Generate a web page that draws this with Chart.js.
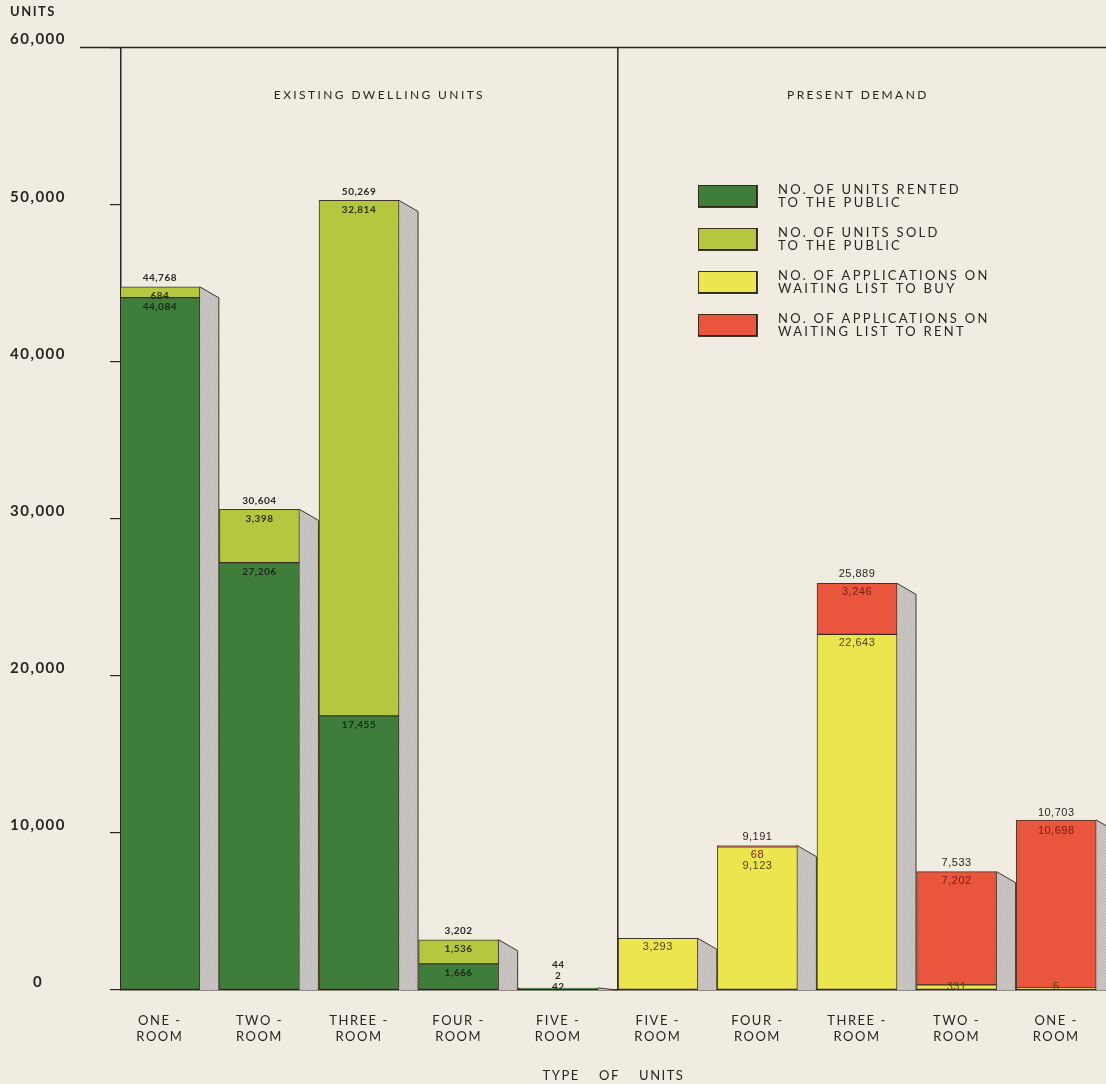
<!DOCTYPE html>
<html>
<head>
<meta charset="utf-8">
<title>Existing dwelling units and present demand</title>
<script src="https://cdn.jsdelivr.net/npm/chart.js@4.4.1/dist/chart.umd.min.js"></script>
<style>
  html, body { margin: 0; padding: 0; background: #f0ece2; }
  #wrap { width: 1106px; height: 1084px; position: relative; }
</style>
</head>
<body>
<div id="wrap"><canvas id="units"></canvas></div>
<script>
// room types: first five are existing stock, last five are the waiting lists
var categories = ['ONE-ROOM', 'TWO-ROOM', 'THREE-ROOM', 'FOUR-ROOM', 'FIVE-ROOM',
                  'FIVE-ROOM', 'FOUR-ROOM', 'THREE-ROOM', 'TWO-ROOM', 'ONE-ROOM'];
var sections = ['EXISTING DWELLING UNITS', 'PRESENT DEMAND'];

var rented = [44084, 27206, 17455, 1666, 42, null, null, null, null, null];
var sold   = [684, 3398, 32814, 1536, 2, null, null, null, null, null];
var toBuy  = [null, null, null, null, null, 3293, 9123, 22643, 331, 5];
var toRent = [null, null, null, null, null, null, 68, 3246, 7202, 10698];

var yTicks = [0, 10000, 20000, 30000, 40000, 50000, 60000];

var seriesNames = [
  ['NO. OF UNITS RENTED', 'TO THE PUBLIC'],
  ['NO. OF UNITS SOLD', 'TO THE PUBLIC'],
  ['NO. OF APPLICATIONS ON', 'WAITING LIST TO BUY'],
  ['NO. OF APPLICATIONS ON', 'WAITING LIST TO RENT']
];
var seriesColors = ['#3f7d3b', '#b4c73f', '#ece64e', '#e9553d'];
var seriesInk = ['#1c2818', '#2f3210', '#4d4610', '#7a1b0e'];

var series = [rented, sold, toBuy, toRent];
var ink = '#2a2520';
var edge = 'rgba(45,35,20,0.9)';

function fmt(v) { return v.toLocaleString('en-US'); }
function roomLabel(c) { var p = c.split('-'); return [p[0] + ' -', p[1]]; }

// hatched grey used for the side faces of the bars
var hatch = (function () {
  var c = document.createElement('canvas');
  c.width = 3; c.height = 3;
  var g = c.getContext('2d');
  g.fillStyle = '#ccc8c5';
  g.fillRect(0, 0, 3, 3);
  g.fillStyle = '#b9b5b2';
  g.fillRect(0, 2, 1, 1); g.fillRect(1, 1, 1, 1); g.fillRect(2, 0, 1, 1);
  return c;
})();

function columnTop(chart, i) {
  var top = chart.scales.y.getPixelForValue(0);
  series.forEach(function (s, k) {
    if (s[i] == null) return;
    var el = chart.getDatasetMeta(k).data[i];
    if (el) top = Math.min(top, el.y);
  });
  return top;
}

var spacing = {
  id: 'spacing',
  beforeLayout: function (chart) { chart.ctx.letterSpacing = '1.5px'; },
  beforeDraw: function (chart) { chart.ctx.letterSpacing = '1.5px'; }
};

var sideFaces = {
  id: 'sideFaces',
  beforeDatasetsDraw: function (chart) {
    var ctx = chart.ctx, y = chart.scales.y, x = chart.scales.x;
    var base = y.getPixelForValue(0);
    var pattern = ctx.createPattern(hatch, 'repeat');
    ctx.save();
    categories.forEach(function (c, i) {
      var top = columnTop(chart, i);
      var right = x.getPixelForValue(i) + 40;
      var depth = 19, drop = Math.min(11, base - top);
      ctx.beginPath();
      ctx.moveTo(right, top);
      ctx.lineTo(right + depth, top + drop);
      ctx.lineTo(right + depth, base);
      ctx.lineTo(right, base);
      ctx.closePath();
      ctx.fillStyle = pattern;
      ctx.fill();
      ctx.strokeStyle = edge;
      ctx.lineWidth = 1;
      ctx.beginPath();
      ctx.moveTo(right, top);
      ctx.lineTo(right + depth, top + drop);
      ctx.lineTo(right + depth, base);
      ctx.stroke();
    });
    ctx.restore();
  }
};

var valueLabels = {
  id: 'valueLabels',
  afterDatasetsDraw: function (chart) {
    var ctx = chart.ctx, y = chart.scales.y, x = chart.scales.x;
    var base = y.getPixelForValue(0);
    ctx.save();
    ctx.textAlign = 'center';
    ctx.textBaseline = 'middle';
    ctx.letterSpacing = '0.5px';
    categories.forEach(function (c, i) {
      var segs = [], sum = 0;
      series.forEach(function (s, k) {
        if (s[i] == null) return;
        sum += s[i];
        segs.push({ v: s[i], k: k, top: y.getPixelForValue(sum) });
      });
      if (!segs.length) return;
      var labels = [];
      if (segs.length > 1) labels.push({ text: fmt(sum), y: segs[segs.length - 1].top - 9, color: ink });
      for (var j = segs.length - 1; j >= 0; j--) {
        labels.push({ text: fmt(segs[j].v), y: segs[j].top + 9, color: seriesInk[segs[j].k] });
      }
      // keep labels apart, and inside the baseline
      for (j = 1; j < labels.length; j++) labels[j].y = Math.max(labels[j].y, labels[j - 1].y + 11);
      var last = labels.length - 1;
      labels[last].y = Math.min(labels[last].y, base - 3);
      for (j = last - 1; j >= 0; j--) labels[j].y = Math.min(labels[j].y, labels[j + 1].y - 11);
      ctx.font = i < 5 ? 'bold 10px Lato' : '11px "Liberation Sans"';
      var cx = x.getPixelForValue(i);
      labels.forEach(function (l) {
        ctx.fillStyle = l.color;
        ctx.fillText(l.text, cx, l.y);
      });
    });
    ctx.restore();
  }
};

var decor = {
  id: 'decor',
  afterDraw: function (chart) {
    var ctx = chart.ctx, a = chart.chartArea;
    var first = chart.getDatasetMeta(2).data[5];
    var divider = first.x - first.width / 2;
    ctx.save();
    ctx.strokeStyle = ink;
    ctx.lineWidth = 1.5;
    ctx.beginPath();
    ctx.moveTo(80, a.top); ctx.lineTo(a.right, a.top);
    ctx.moveTo(divider, a.top); ctx.lineTo(divider, a.bottom);
    ctx.stroke();

    ctx.fillStyle = ink;
    ctx.textAlign = 'center';
    ctx.textBaseline = 'middle';
    ctx.font = '12px Lato';
    ctx.letterSpacing = '2.4px';
    ctx.fillText(sections[0], (a.left + divider) / 2 + 10, a.top + 48);
    ctx.fillText(sections[1], (divider + a.right) / 2 - 4, a.top + 48);

    // legend
    ctx.textAlign = 'left';
    ctx.font = '13px Lato';
    ctx.letterSpacing = '2.3px';
    seriesNames.forEach(function (lines, k) {
      var top = 185 + k * 43;
      ctx.fillStyle = seriesColors[k];
      ctx.fillRect(698, top, 59, 22);
      ctx.strokeStyle = edge;
      ctx.lineWidth = 1;
      ctx.strokeRect(698.5, top + 0.5, 58, 21);
      ctx.lineWidth = 2;
      ctx.beginPath();
      ctx.moveTo(698, top + 22); ctx.lineTo(757, top + 22); ctx.lineTo(757, top);
      ctx.stroke();
      ctx.fillStyle = ink;
      ctx.fillText(lines[0], 778, top + 5);
      ctx.fillText(lines[1], 778, top + 18);
    });
    ctx.restore();
  }
};

new Chart(document.getElementById('units'), {
  type: 'bar',
  data: {
    datasets: series.map(function (vals, k) {
      return {
        label: seriesNames[k].join(' '),
        data: vals.map(function (v, i) { return { x: i, y: v }; }),
        backgroundColor: seriesColors[k],
        borderColor: edge,
        borderWidth: 1,
        borderSkipped: false,
        barThickness: 80,
        minBarLength: (k === 0 || k === 2) ? 2 : 0
      };
    })
  },
  options: {
    responsive: true,
    maintainAspectRatio: false,
    animation: false,
    layout: { padding: { left: 10, right: 0, top: 0, bottom: 0 } },
    plugins: {
      legend: { display: false },
      tooltip: { enabled: false },
      title: {
        display: true,
        text: 'UNITS',
        align: 'start',
        color: ink,
        font: { family: 'Lato', weight: 'bold', size: 13 },
        padding: { top: 4, bottom: 28 }
      }
    },
    scales: {
      x: {
        type: 'linear',
        stacked: true,
        offset: false,
        min: -0.39,
        max: 9.5,
        afterBuildTicks: function (s) { s.ticks = categories.map(function (c, i) { return { value: i }; }); },
        afterFit: function (s) { s.height = 94; },
        grid: { display: false },
        border: { display: true, color: ink, width: 1.5 },
        ticks: {
          padding: 15,
          autoSkip: false,
          maxRotation: 0,
          color: ink,
          font: { family: 'Lato', size: 13 },
          callback: function (v) { return roomLabel(categories[v]); }
        },
        title: {
          display: true,
          text: 'TYPE    OF    UNITS',
          color: ink,
          font: { family: 'Lato', size: 13 },
          padding: 0
        }
      },
      y: {
        stacked: true,
        min: 0,
        max: 60000,
        afterBuildTicks: function (s) { s.ticks = yTicks.map(function (v) { return { value: v }; }); },
        afterFit: function (s) {
          s.width = 111;
          s.paddingTop = 0;
          s.paddingBottom = 0;
        },
        grid: { drawOnChartArea: false, drawTicks: true, tickLength: 11, color: ink, lineWidth: 1.2 },
        border: { display: true, color: ink, width: 1.5 },
        ticks: {
          crossAlign: 'center',
          padding: 44,
          labelOffset: -8,
          color: ink,
          font: { family: 'Lato', weight: 'bold', size: 15 },
          callback: function (v) { return fmt(v); }
        }
      }
    }
  },
  plugins: [spacing, sideFaces, valueLabels, decor]
});
</script>
</body>
</html>
